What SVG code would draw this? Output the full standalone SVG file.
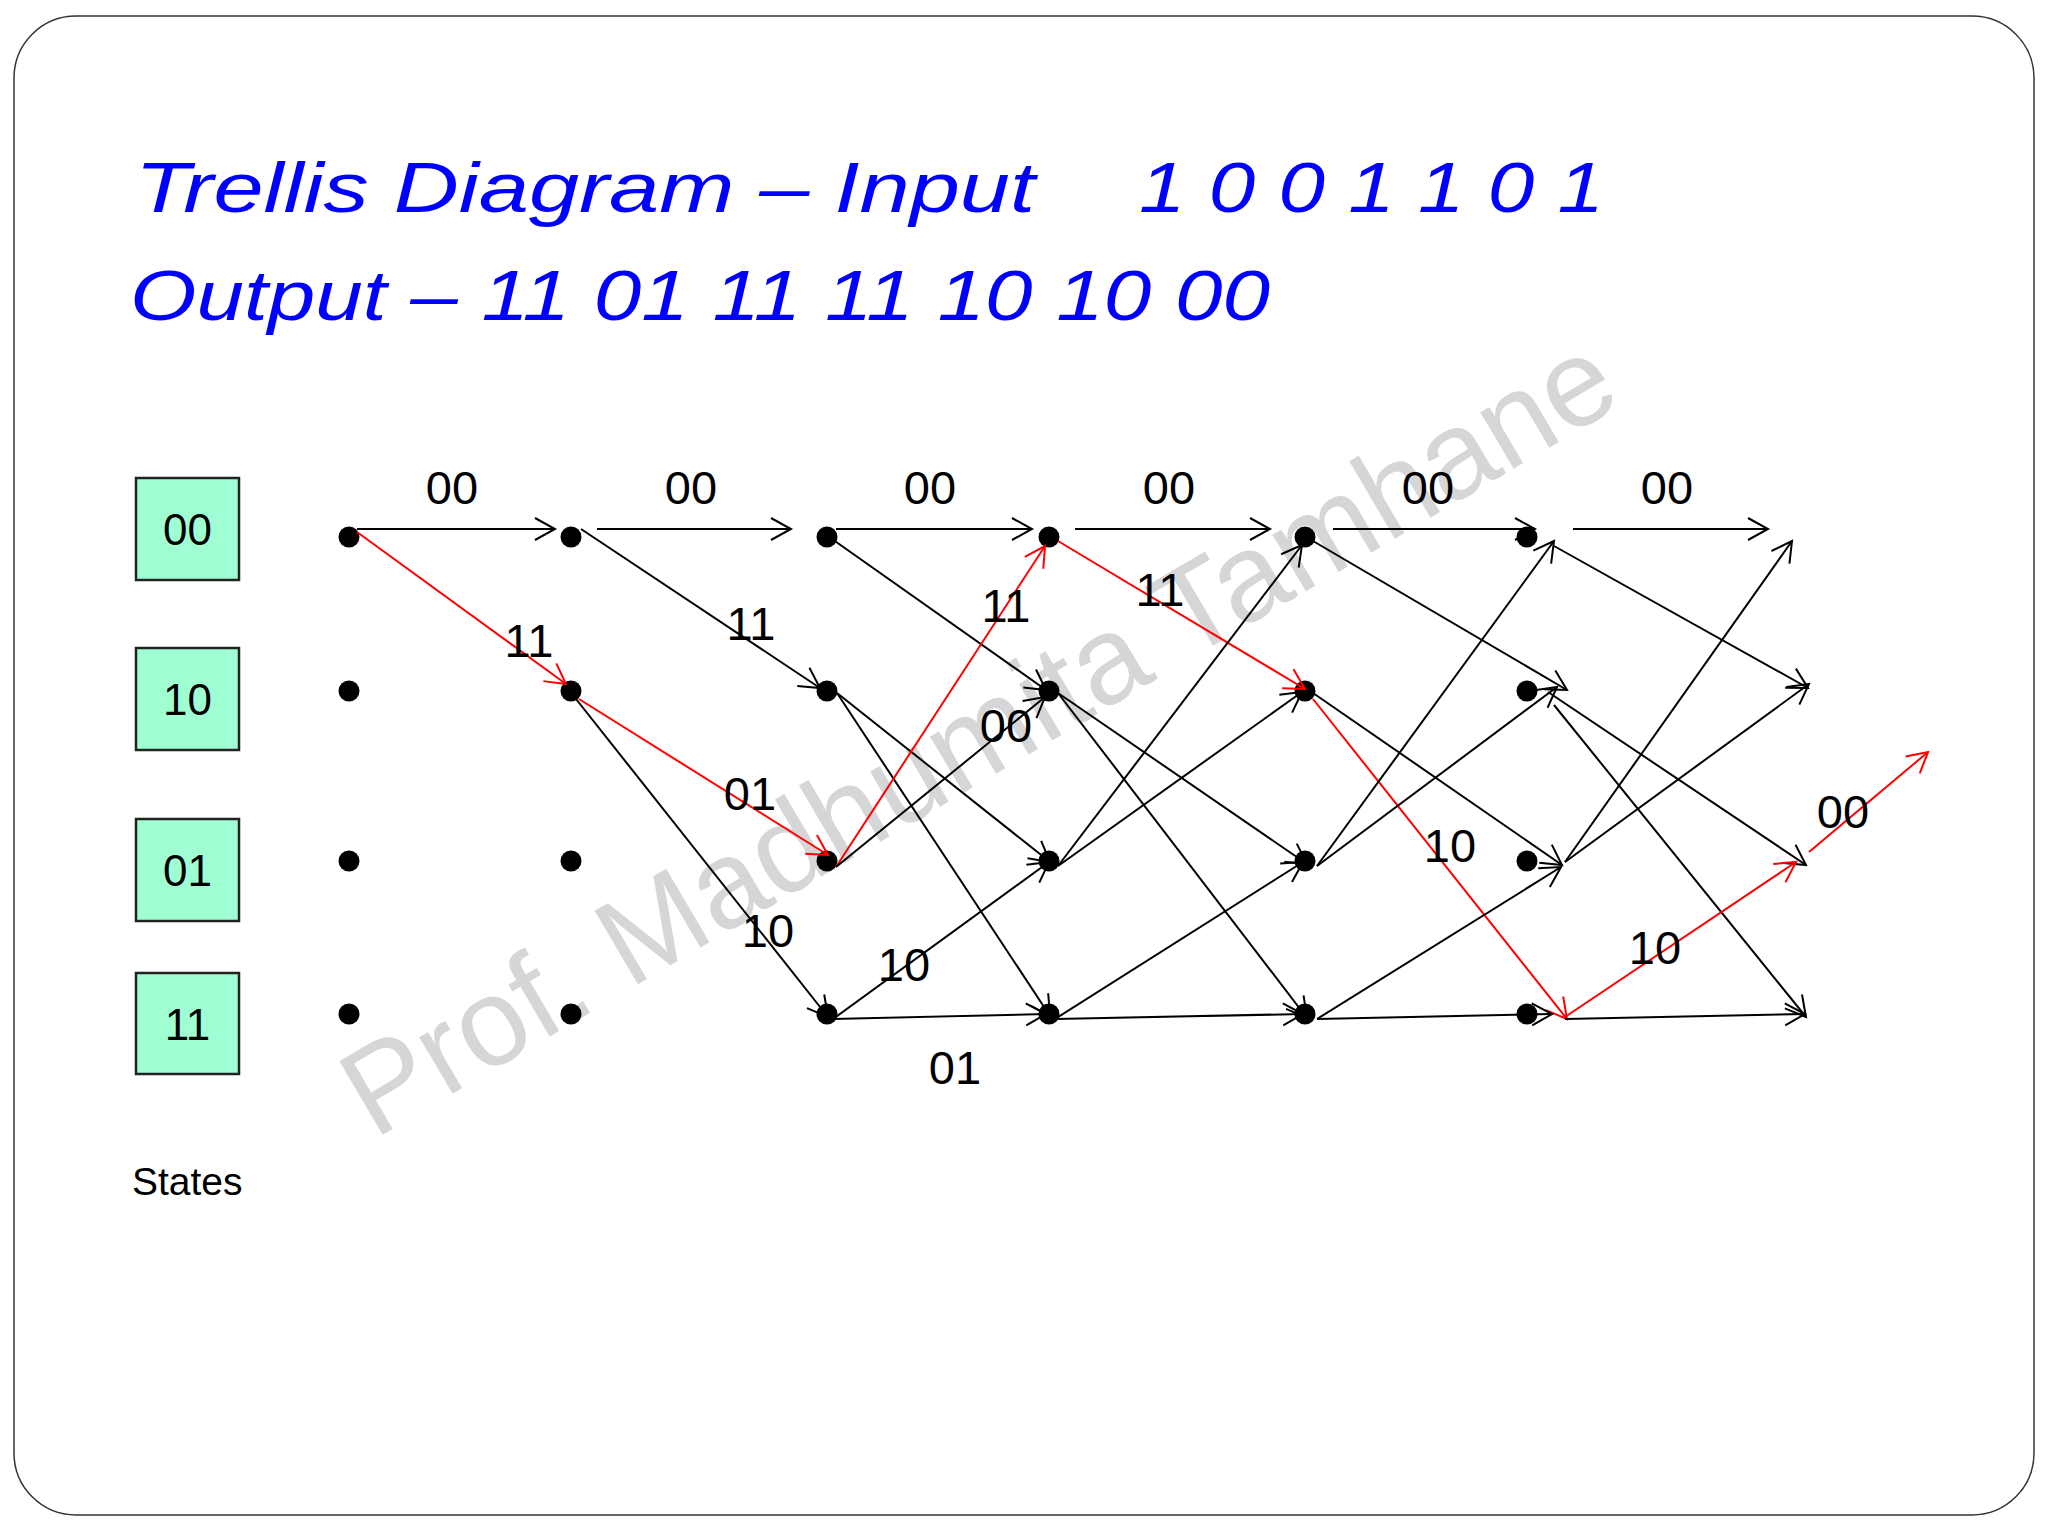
<svg xmlns="http://www.w3.org/2000/svg" width="2048" height="1536" viewBox="0 0 2048 1536">
<defs>
<style>
.ln{stroke:#000;stroke-width:2;fill:none}
.rd{stroke:#f00;stroke-width:2;fill:none}
.lb{font-family:"Liberation Sans",Arial,sans-serif;font-size:47px;fill:#000;text-anchor:middle}
.st{font-family:"Liberation Sans",Arial,sans-serif;font-size:44px;fill:#000;text-anchor:middle}
.box{fill:#a0ffd2;stroke:#222;stroke-width:2.5}
.dot{fill:#000}
.ttl{font-family:"Liberation Sans",Arial,sans-serif;font-style:italic;font-size:70px;fill:#0000ff}
</style>
<marker id="ah" markerUnits="userSpaceOnUse" markerWidth="26" markerHeight="28" refX="21" refY="13" orient="auto" viewBox="0 0 26 26" overflow="visible">
<path d="M1,2 L21,13 L1,24" fill="none" stroke="#000" stroke-width="2"/>
</marker>
<marker id="ahr" markerUnits="userSpaceOnUse" markerWidth="26" markerHeight="28" refX="21" refY="13" orient="auto" viewBox="0 0 26 26" overflow="visible">
<path d="M1,2 L21,13 L1,24" fill="none" stroke="#f00" stroke-width="2"/>
</marker>
</defs>
<rect x="0" y="0" width="2048" height="1536" fill="#fff"/>
<rect x="14" y="16" width="2020" height="1499" rx="62" ry="62" fill="#fff" stroke="#333" stroke-width="1.5"/>

<g id="watermark">
<text x="374" y="1140" transform="rotate(-30.5 374 1140)" font-family="Liberation Sans, Arial, sans-serif" font-size="124" fill="#d6d6d9">Prof. Madhumita Tamhane</text>
</g>

<g id="title">
<text class="ttl" x="135" y="212" textLength="900" lengthAdjust="spacingAndGlyphs">Trellis Diagram – Input</text>
<text class="ttl" x="1139" y="212" textLength="465" lengthAdjust="spacingAndGlyphs">1 0 0 1 1 0 1</text>
<text class="ttl" x="130" y="320" textLength="1140" lengthAdjust="spacingAndGlyphs">Output – 11 01 11 11 10 10 00</text>
</g>

<g id="state-00"><rect class="box" x="136" y="478" width="103" height="102"/><text class="st" x="187.5" y="545">00</text></g>
<g id="state-10"><rect class="box" x="136" y="648" width="103" height="102"/><text class="st" x="187.5" y="715">10</text></g>
<g id="state-01"><rect class="box" x="136" y="819" width="103" height="102"/><text class="st" x="187.5" y="886">01</text></g>
<g id="state-11"><rect class="box" x="136" y="973" width="103" height="101"/><text class="st" x="187.5" y="1040">11</text></g>
<g id="states-label"><text x="132" y="1195" font-family="Liberation Sans, Arial, sans-serif" font-size="39" fill="#000">States</text></g>

<g id="nodes">
<g id="n0"><circle class="dot" cx="349" cy="537" r="10.5"/><circle class="dot" cx="349" cy="691" r="10.5"/><circle class="dot" cx="349" cy="861" r="10.5"/><circle class="dot" cx="349" cy="1014" r="10.5"/></g>
<g id="n1"><circle class="dot" cx="571" cy="537" r="10.5"/><circle class="dot" cx="571" cy="691" r="10.5"/><circle class="dot" cx="571" cy="861" r="10.5"/><circle class="dot" cx="571" cy="1014" r="10.5"/></g>
<g id="n2"><circle class="dot" cx="827" cy="537" r="10.5"/><circle class="dot" cx="827" cy="691" r="10.5"/><circle class="dot" cx="827" cy="861" r="10.5"/><circle class="dot" cx="827" cy="1014" r="10.5"/></g>
<g id="n3"><circle class="dot" cx="1049" cy="537" r="10.5"/><circle class="dot" cx="1049" cy="691" r="10.5"/><circle class="dot" cx="1049" cy="861" r="10.5"/><circle class="dot" cx="1049" cy="1014" r="10.5"/></g>
<g id="n4"><circle class="dot" cx="1305" cy="537" r="10.5"/><circle class="dot" cx="1305" cy="691" r="10.5"/><circle class="dot" cx="1305" cy="861" r="10.5"/><circle class="dot" cx="1305" cy="1014" r="10.5"/></g>
<g id="n5"><circle class="dot" cx="1527" cy="537" r="10.5"/><circle class="dot" cx="1527" cy="691" r="10.5"/><circle class="dot" cx="1527" cy="861" r="10.5"/><circle class="dot" cx="1527" cy="1014" r="10.5"/></g>
</g>

<g id="connectors">
<line class="ln" x1="357" y1="529" x2="555" y2="529" marker-end="url(#ah)"/>
<line class="ln" x1="597" y1="529" x2="791" y2="529" marker-end="url(#ah)"/>
<line class="ln" x1="836" y1="529" x2="1032" y2="529" marker-end="url(#ah)"/>
<line class="ln" x1="1075" y1="529" x2="1270" y2="529" marker-end="url(#ah)"/>
<line class="ln" x1="1333" y1="529" x2="1535" y2="529" marker-end="url(#ah)"/>
<line class="ln" x1="1573" y1="529" x2="1768" y2="529" marker-end="url(#ah)"/>
<line class="rd" x1="357" y1="532" x2="566" y2="684" marker-end="url(#ahr)"/>
<line class="ln" x1="581" y1="529" x2="820" y2="688" marker-end="url(#ah)"/>
<line class="rd" x1="579" y1="699" x2="828" y2="855" marker-end="url(#ahr)"/>
<line class="ln" x1="576" y1="699" x2="828" y2="1017" marker-end="url(#ah)"/>
<line class="ln" x1="832" y1="539" x2="1046" y2="690" marker-end="url(#ah)"/>
<line class="ln" x1="837" y1="693" x2="1050" y2="862" marker-end="url(#ah)"/>
<line class="ln" x1="837" y1="693" x2="1050" y2="1016" marker-end="url(#ah)"/>
<line class="rd" x1="836" y1="867" x2="1045" y2="546" marker-end="url(#ahr)"/>
<line class="ln" x1="836" y1="867" x2="1045" y2="697" marker-end="url(#ah)"/>
<line class="ln" x1="833" y1="1019" x2="1049" y2="862" marker-end="url(#ah)"/>
<line class="ln" x1="833" y1="1019" x2="1046" y2="1014" marker-end="url(#ah)"/>
<line class="rd" x1="1058" y1="541" x2="1305" y2="689" marker-end="url(#ahr)"/>
<line class="ln" x1="1058" y1="693" x2="1307" y2="864" marker-end="url(#ah)"/>
<line class="ln" x1="1058" y1="693" x2="1307" y2="1018" marker-end="url(#ah)"/>
<line class="ln" x1="1058" y1="866" x2="1302" y2="545" marker-end="url(#ah)"/>
<line class="ln" x1="1058" y1="866" x2="1302" y2="692" marker-end="url(#ah)"/>
<line class="ln" x1="1055" y1="1019" x2="1303" y2="862" marker-end="url(#ah)"/>
<line class="ln" x1="1055" y1="1019" x2="1303" y2="1014" marker-end="url(#ah)"/>
<line class="ln" x1="1313" y1="541" x2="1567" y2="690" marker-end="url(#ah)"/>
<line class="ln" x1="1313" y1="693" x2="1562" y2="865" marker-end="url(#ah)"/>
<line class="rd" x1="1313" y1="699" x2="1567" y2="1019" marker-end="url(#ahr)"/>
<line class="ln" x1="1317" y1="866" x2="1554" y2="541" marker-end="url(#ah)"/>
<line class="ln" x1="1317" y1="866" x2="1557" y2="687" marker-end="url(#ah)"/>
<line class="ln" x1="1317" y1="1019" x2="1561" y2="867" marker-end="url(#ah)"/>
<line class="ln" x1="1317" y1="1019" x2="1552" y2="1014" marker-end="url(#ah)"/>
<line class="ln" x1="1554" y1="546" x2="1808" y2="688" marker-end="url(#ah)"/>
<line class="ln" x1="1548" y1="692" x2="1806" y2="865" marker-end="url(#ah)"/>
<line class="ln" x1="1554" y1="705" x2="1806" y2="1017" marker-end="url(#ah)"/>
<line class="ln" x1="1565" y1="862" x2="1792" y2="541" marker-end="url(#ah)"/>
<line class="ln" x1="1565" y1="862" x2="1809" y2="684" marker-end="url(#ah)"/>
<line class="rd" x1="1565" y1="1017" x2="1796" y2="862" marker-end="url(#ahr)"/>
<line class="ln" x1="1565" y1="1019" x2="1805" y2="1014" marker-end="url(#ah)"/>
<line class="rd" x1="1809" y1="852" x2="1928" y2="752" marker-end="url(#ahr)"/>
</g>

<g id="edge-labels">
<text class="lb" x="452" y="504">00</text>
<text class="lb" x="691" y="504">00</text>
<text class="lb" x="930" y="504">00</text>
<text class="lb" x="1169" y="504">00</text>
<text class="lb" x="1428" y="504">00</text>
<text class="lb" x="1667" y="504">00</text>
<text class="lb" x="529" y="657">11</text>
<text class="lb" x="751" y="640">11</text>
<text class="lb" x="750" y="810">01</text>
<text class="lb" x="768" y="947">10</text>
<text class="lb" x="1006" y="622">11</text>
<text class="lb" x="1006" y="742">00</text>
<text class="lb" x="904" y="981">10</text>
<text class="lb" x="955" y="1084">01</text>
<text class="lb" x="1160" y="606">11</text>
<text class="lb" x="1450" y="862">10</text>
<text class="lb" x="1655" y="964">10</text>
<text class="lb" x="1843" y="828">00</text>
</g>
</svg>
